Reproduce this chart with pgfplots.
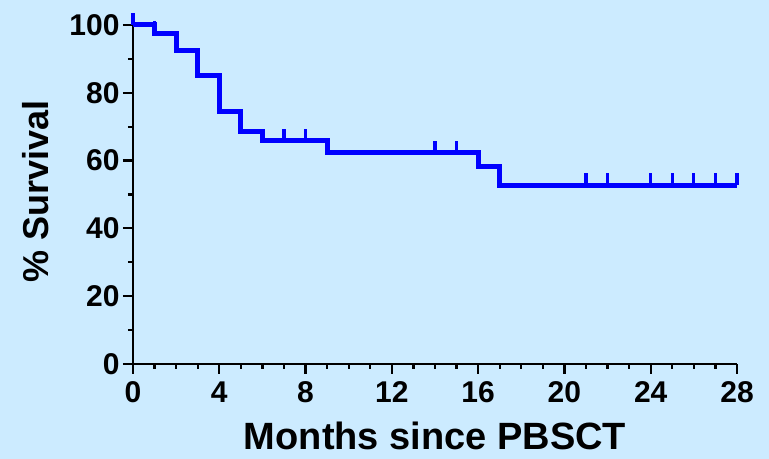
\documentclass[border=0pt]{standalone}
\usepackage{fontspec}
\setmainfont{Liberation Sans}
\usepackage{pgfplots}
\pgfplotsset{compat=1.18}
\definecolor{bgblue}{RGB}{204,235,255}
\definecolor{kmblue}{RGB}{0,0,255}
\pgfdeclareplotmark{cens}{\pgfpathmoveto{\pgfpointorigin}\pgfpathlineto{\pgfpoint{0pt}{\pgfplotmarksize}}\pgfusepathqstroke}
\begin{document}
\begin{tikzpicture}
\fill[bgblue] (0,0) rectangle (769bp,459bp);
\begin{axis}[
  at={(133bp,95bp)}, anchor=south west,
  width=604bp, height=339bp, scale only axis,
  xmin=0, xmax=28, ymin=0, ymax=100,
  axis lines=left, axis line style={-, line width=2.5bp, black},
  xtick={0,4,...,28}, minor x tick num=3,
  ytick={0,20,...,100}, minor y tick num=1,
  tick align=outside, major tick length=10bp, minor tick length=5bp,
  every tick/.style={black, line width=2.2bp},
  tick label style={font=\bfseries\fontsize{30bp}{32bp}\selectfont},
  xticklabel style={yshift=-4bp},
  /pgf/number format/assume math mode=true,
  xlabel={Months since PBSCT}, ylabel={\% Survival},
  xlabel style={font=\bfseries\fontsize{38bp}{42bp}\selectfont, at={(axis description cs:0.5,0)}, anchor=base, inner sep=0pt, yshift=-85bp},
  ylabel style={font=\bfseries\fontsize{36bp}{40bp}\selectfont, at={(axis description cs:-0.1606,0.51)}, anchor=center, rotate=0},
  clip=false,
]
\addplot[const plot, kmblue, line width=5bp] coordinates {(0,100)(1,97.6)(2,92.6)(3,85.0)(4,74.4)(5,68.7)(6,65.8)(9,62.3)(16,58.2)(17,52.8)(28,52.8)};
\addplot[only marks, mark=cens, mark size=12bp, kmblue, mark options={line width=3.2bp}] coordinates {(0,100)(1,97.6)(6,65.8)(7,65.8)(8,65.8)(14,62.3)(15,62.3)(21,52.8)(22,52.8)(24,52.8)(25,52.8)(26,52.8)(27,52.8)(28,52.8)};
\end{axis}
\pgfresetboundingbox
\path[use as bounding box] (0,0) rectangle (769bp,459bp);
\end{tikzpicture}
\end{document}
